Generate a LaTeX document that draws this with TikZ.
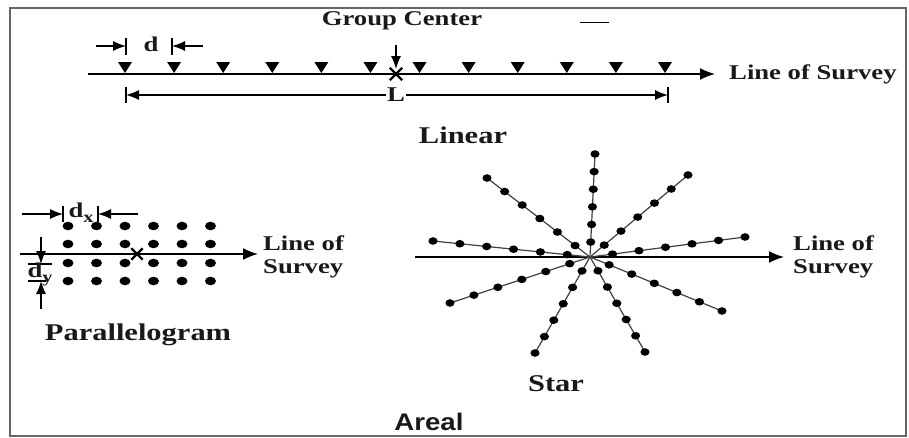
\documentclass[tikz,border=0pt]{standalone}
\usepackage{fontspec}
\newfontfamily\tb{Liberation Serif}[FakeStretch=1.27]
\newfontfamily\ar{Liberation Sans}[FakeStretch=1.15]
\usetikzlibrary{arrows.meta,calc,shapes.misc}
\begin{document}
\begin{tikzpicture}[x=1pt,y=-1pt,
  lbl/.style={font=\tb\bfseries\fontsize{21}{23}\selectfont, inner sep=0pt, text=black!90},
  big/.style={font=\tb\bfseries\fontsize{24}{26}\selectfont, inner sep=0pt, text=black!90},
  survey/.style={line width=1.6pt, -{Latex[length=15pt,width=12pt]}},
  dim/.style={line width=1.3pt, -{Latex[length=13pt,width=10pt]}},
  bar/.style={line width=1.3pt},
  ray/.style={line width=1.2pt, black!75},
  xmark/.style={cross out, draw, line width=2.4pt, minimum size=#1, inner sep=0pt},
  ]
\useasboundingbox (0,0) rectangle (909,437);
\draw[line width=2pt, black!60] (10,8) rectangle (906,436);

% ---------------- Linear ----------------
\coordinate (L0) at (88,74);
\coordinate (L1) at (715,74);
\draw[survey] (L0) -- (L1);
\node[lbl, anchor=west] (ls1) at (729,74) {Line of Survey};
\foreach \i in {0,...,11}
  \fill ({125+49.09*\i-7},62) -- ({125+49.09*\i+7},62) -- ({125+49.09*\i},73) -- cycle;
\node[xmark=10pt] (gc) at (396,74) {};
\node[lbl] (gct) at (402,21) {Group Center};
\coordinate (ga) at (396,45);
\coordinate (gb) at (396,69);
\draw[dim] (ga) -- (gb);
\coordinate (dash0) at (580,22);
\coordinate (dash1) at (609,22);
\draw[line width=1pt] (dash0) -- (dash1);
% d
\coordinate (db1) at (126,38); \coordinate (db2) at (126,55);
\coordinate (db3) at (172,38); \coordinate (db4) at (172,55);
\draw[bar] (db1) -- (db2);
\draw[bar] (db3) -- (db4);
\coordinate (da0) at (96,46); \coordinate (da1) at (126,46);
\coordinate (da2) at (203,46); \coordinate (da3) at (172,46);
\draw[dim] (da0) -- (da1);
\draw[dim] (da2) -- (da3);
\node[lbl] (dlab) at (151,44) {d};
% L
\coordinate (Lb1) at (126,87); \coordinate (Lb2) at (126,103);
\coordinate (Lb3) at (668,87); \coordinate (Lb4) at (668,103);
\draw[bar] (Lb1) -- (Lb2);
\draw[bar] (Lb3) -- (Lb4);
\node[lbl, fill=white, inner xsep=1pt] (Lt) at (396,95) {L};
\coordinate (La) at (126,95); \coordinate (Lc) at (668,95);
\draw[dim] (Lt) -- (La);
\draw[dim] (Lt) -- (Lc);
\node[big] (lin) at (463,135) {Linear};

% ---------------- Parallelogram ----------------
\foreach \yy in {226,244,263,281}
  \foreach \xx in {68,96.5,125,153.5,182,210.5}
    \fill (\xx,\yy) ellipse [x radius=5.5pt, y radius=4.3pt];
\coordinate (P0) at (20,254);
\coordinate (P1) at (258,254);
\draw[survey] (P0) -- (P1);
\node[xmark=9pt] (pc) at (137,254) {};
\node[lbl, anchor=west, align=left] (ls2) at (263,256.5) {Line of\\Survey};
% dx
\coordinate (xb1) at (63,206); \coordinate (xb2) at (63,222);
\coordinate (xb3) at (98,206); \coordinate (xb4) at (98,222);
\draw[bar] (xb1) -- (xb2);
\draw[bar] (xb3) -- (xb4);
\coordinate (xa0) at (22,214); \coordinate (xa1) at (63,214);
\coordinate (xa2) at (138,214); \coordinate (xa3) at (98,214);
\draw[dim] (xa0) -- (xa1);
\draw[dim] (xa2) -- (xa3);
\node[lbl] (dx) at (81,213) {d\raisebox{-5pt}{\fontsize{16}{16}\selectfont x}};
% dy
\coordinate (yb1) at (28,264); \coordinate (yb2) at (52,264);
\coordinate (yb3) at (28,281); \coordinate (yb4) at (46,281);
\draw[bar] (yb1) -- (yb2);
\draw[bar] (yb3) -- (yb4);
\coordinate (ya0) at (41,237); \coordinate (ya1) at (41,264);
\coordinate (ya2) at (41,309); \coordinate (ya3) at (41,281);
\draw[dim] (ya0) -- (ya1);
\draw[dim] (ya2) -- (ya3);
\node[lbl] (dy) at (40,274) {d\raisebox{-5pt}{\fontsize{16}{16}\selectfont y}};
\node[big] (par) at (138,335) {Parallelogram};

% ---------------- Star ----------------
\coordinate (C) at (590,257);
\coordinate (S0) at (415,257);
\coordinate (S1) at (784,257);
\draw[survey] (S0) -- (S1);
\foreach \ex/\ey [count=\k] in {595/154, 688/175, 745/237, 722/311, 645/352, 535/353, 450/303, 433/241, 487/178} {
  \coordinate (e\k) at (\ex,\ey);
  \draw[ray] (C) -- (e\k);
  \foreach \t in {0.145,0.316,0.487,0.658,0.829,1}
    \fill ($(C)!\t!(e\k)$) ellipse [x radius=4.6pt, y radius=3.8pt];
}
\node[lbl, anchor=west, align=left] (ls3) at (793,256.5) {Line of\\Survey};
\node[big] (star) at (556,384) {Star};
\node[font=\ar\bfseries\fontsize{24}{26}\selectfont, inner sep=0pt, text=black!90] (areal) at (429,422) {Areal};
\end{tikzpicture}
\end{document}
